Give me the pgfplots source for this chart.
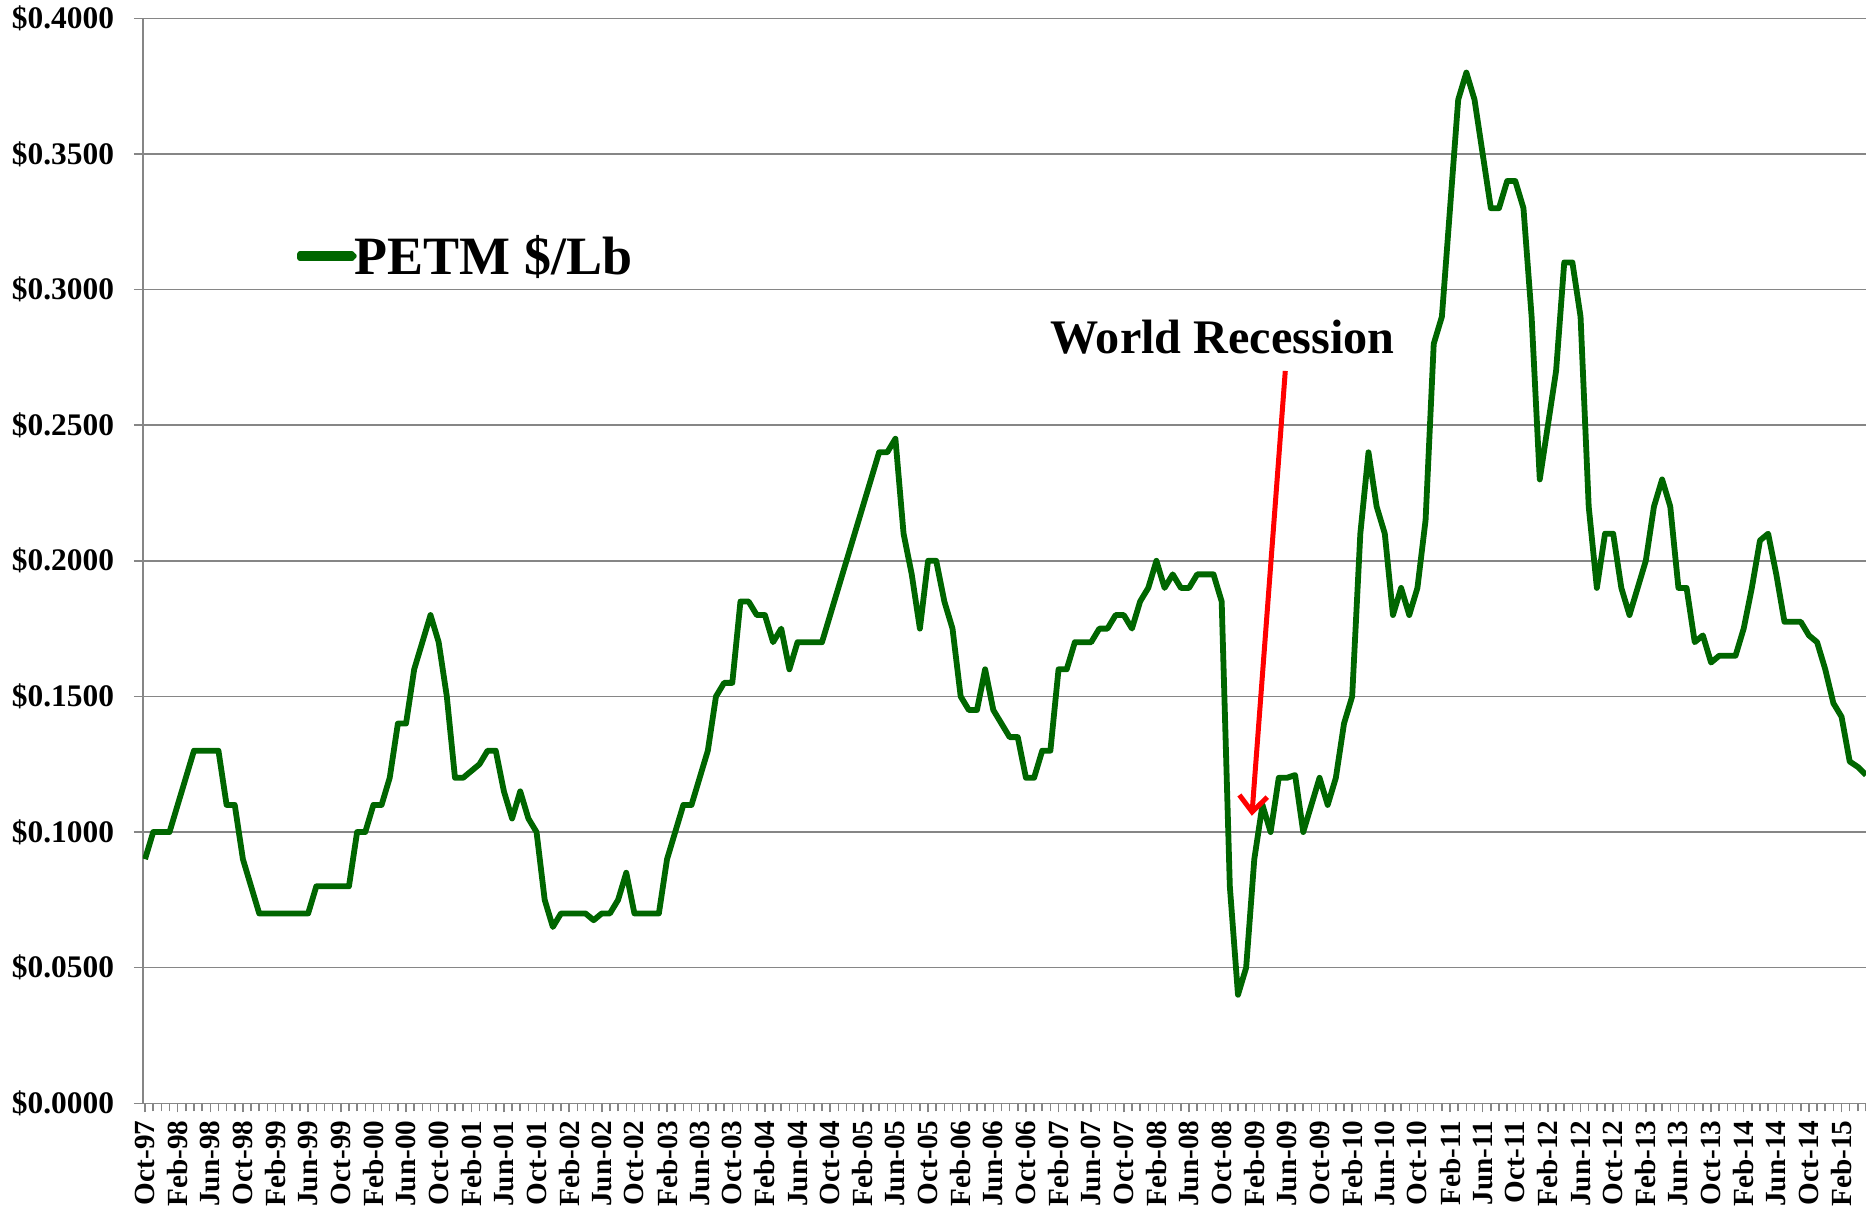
\documentclass[border=0pt]{standalone}
\usepackage{fontspec}
\setmainfont{Liberation Serif}
\usepackage{pgfplots}
\usepackage{pgfplotstable}
\pgfplotsset{compat=1.18}
\usetikzlibrary{arrows.meta}
\definecolor{petm}{RGB}{0,102,0}
\definecolor{gridgray}{RGB}{134,134,134}

\pgfplotstableread{
i v
0 0.090
1 0.100
2 0.100
3 0.100
4 0.110
5 0.120
6 0.130
7 0.130
8 0.130
9 0.130
10 0.110
11 0.110
12 0.090
13 0.080
14 0.070
15 0.070
16 0.070
17 0.070
18 0.070
19 0.070
20 0.070
21 0.080
22 0.080
23 0.080
24 0.080
25 0.080
26 0.100
27 0.100
28 0.110
29 0.110
30 0.120
31 0.140
32 0.140
33 0.160
34 0.170
35 0.180
36 0.170
37 0.150
38 0.120
39 0.120
40 0.1225
41 0.125
42 0.130
43 0.130
44 0.115
45 0.105
46 0.115
47 0.105
48 0.100
49 0.075
50 0.065
51 0.070
52 0.070
53 0.070
54 0.070
55 0.0675
56 0.070
57 0.070
58 0.075
59 0.085
60 0.070
61 0.070
62 0.070
63 0.070
64 0.090
65 0.100
66 0.110
67 0.110
68 0.120
69 0.130
70 0.150
71 0.155
72 0.155
73 0.185
74 0.185
75 0.180
76 0.180
77 0.170
78 0.175
79 0.160
80 0.170
81 0.170
82 0.170
83 0.170
84 0.180
85 0.190
86 0.200
87 0.210
88 0.220
89 0.230
90 0.240
91 0.240
92 0.245
93 0.210
94 0.195
95 0.175
96 0.200
97 0.200
98 0.185
99 0.175
100 0.150
101 0.145
102 0.145
103 0.160
104 0.145
105 0.140
106 0.135
107 0.135
108 0.120
109 0.120
110 0.130
111 0.130
112 0.160
113 0.160
114 0.170
115 0.170
116 0.170
117 0.175
118 0.175
119 0.180
120 0.180
121 0.175
122 0.185
123 0.190
124 0.200
125 0.190
126 0.195
127 0.190
128 0.190
129 0.195
130 0.195
131 0.195
132 0.185
133 0.080
134 0.040
135 0.050
136 0.090
137 0.110
138 0.100
139 0.120
140 0.120
141 0.121
142 0.100
143 0.110
144 0.120
145 0.110
146 0.120
147 0.140
148 0.150
149 0.210
150 0.240
151 0.220
152 0.210
153 0.180
154 0.190
155 0.180
156 0.190
157 0.215
158 0.280
159 0.290
160 0.330
161 0.370
162 0.380
163 0.370
164 0.350
165 0.330
166 0.330
167 0.340
168 0.340
169 0.330
170 0.290
171 0.230
172 0.250
173 0.270
174 0.310
175 0.310
176 0.290
177 0.220
178 0.190
179 0.210
180 0.210
181 0.190
182 0.180
183 0.190
184 0.200
185 0.220
186 0.230
187 0.220
188 0.190
189 0.190
190 0.170
191 0.1725
192 0.1625
193 0.165
194 0.165
195 0.165
196 0.175
197 0.190
198 0.2075
199 0.210
200 0.195
201 0.1775
202 0.1775
203 0.1775
204 0.1725
205 0.170
206 0.160
207 0.1475
208 0.1425
209 0.126
210 0.124
211 0.121
}\petmdata

\begin{document}
\begin{tikzpicture}
\begin{axis}[
  scale only axis,
  width=861.5pt, height=542.5pt,
  xmin=-0.25, xmax=211, ymin=0, ymax=0.4,
  axis lines*=left,
  axis line style={gridgray, line width=0.75pt},
  tick pos=left,
  tick align=outside,
  major tick length=4.5pt,
  minor tick length=4pt,
  tick style={gridgray, line width=0.75pt},
  ymajorgrids,
  grid style={gridgray, line width=0.75pt},
  ytick={0,0.05,0.1,0.15,0.2,0.25,0.3,0.35,0.4},
  yticklabels={\$0.0000,\$0.0500,\$0.1000,\$0.1500,\$0.2000,\$0.2500,\$0.3000,\$0.3500,\$0.4000},
  yticklabel style={font=\bfseries\fontsize{15.7}{17}\selectfont, anchor=east, inner sep=0pt},
  yticklabel shift=9.8pt,
  xtick={0,4,...,208},
  minor xtick={0,...,211},
  xticklabels={Oct-97,Feb-98,Jun-98,Oct-98,Feb-99,Jun-99,Oct-99,Feb-00,Jun-00,Oct-00,Feb-01,Jun-01,Oct-01,Feb-02,Jun-02,Oct-02,Feb-03,Jun-03,Oct-03,Feb-04,Jun-04,Oct-04,Feb-05,Jun-05,Oct-05,Feb-06,Jun-06,Oct-06,Feb-07,Jun-07,Oct-07,Feb-08,Jun-08,Oct-08,Feb-09,Jun-09,Oct-09,Feb-10,Jun-10,Oct-10,Feb-11,Jun-11,Oct-11,Feb-12,Jun-12,Oct-12,Feb-13,Jun-13,Oct-13,Feb-14,Jun-14,Oct-14,Feb-15},
  xticklabel style={font=\bfseries\fontsize{14.6}{15}\selectfont, rotate=90, anchor=east, inner sep=0pt},
  xticklabel shift=4pt,
  legend style={draw=none, fill=none, at={(rel axis cs:0.0894,0.7807)}, anchor=west, inner sep=0pt,
    font=\bfseries\fontsize{27}{30}\selectfont, nodes={inner sep=0pt}},
  legend image code/.code={\draw[#1, line cap=round] (0pt,0pt) -- (25.3pt,0pt); \pgfresetboundingbox \path (-1.45pt,-1pt) rectangle (24.2pt,1pt);},
]
\addplot[petm, line width=2.9pt, line join=round] table[x=i, y=v] {\petmdata};
\addlegendentry{PETM \$/Lb}
\draw[red, line width=2.5pt, -{Straight Barb[length=8pt, width=14pt]}] (axis cs:139.8,0.270) -- (axis cs:135.7,0.106);
\node[font=\bfseries\fontsize{24.1}{26}\selectfont] at (axis cs:132.1,0.2826) {World Recession};
\coordinate (bl) at (rel axis cs:0,0);
\coordinate (tr) at (rel axis cs:1,1);
\end{axis}
\pgfresetboundingbox
\path ([shift={(-71.5pt,-50.85pt)}]bl) rectangle ([shift={(0pt,9.15pt)}]tr);
\end{tikzpicture}
\end{document}
